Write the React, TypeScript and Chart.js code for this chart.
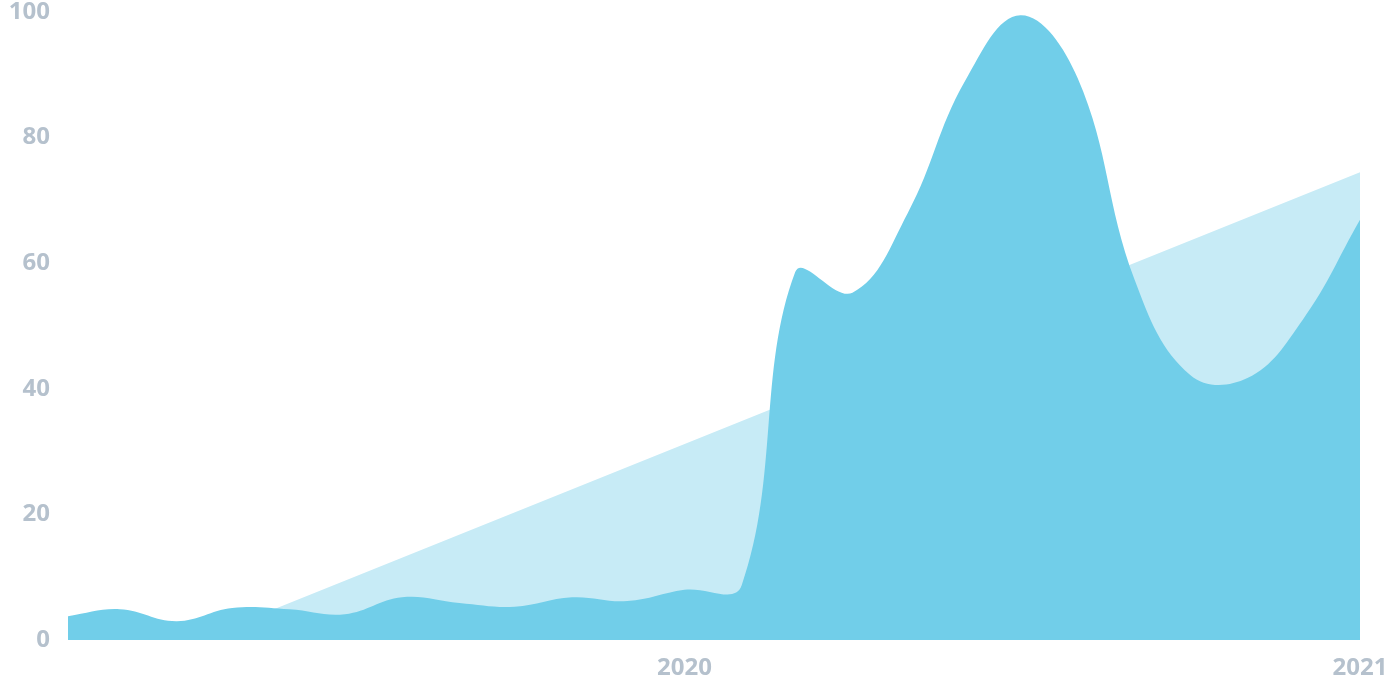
import React, { useEffect, useRef } from "react";
import { Chart, registerables } from "chart.js";

Chart.register(...registerables);

// Monthly interest values (Feb 2019 – Jan 2021)
const months = [
  "2019-02", "2019-03", "2019-04", "2019-05", "2019-06", "2019-07",
  "2019-08", "2019-09", "2019-10", "2019-11", "2019-12", "2020-01",
  "2020-02", "2020-03", "2020-04", "2020-05", "2020-06", "2020-07",
  "2020-08", "2020-09", "2020-10", "2020-11", "2020-12", "2021-01",
];
const interest = [
  3.8, 4.9, 3.0, 5.1, 4.9, 4.1,
  6.8, 5.9, 5.3, 6.8, 6.2, 8.0,
  8.7, 58.6, 55.3, 68, 89, 99.5,
  89.5, 57.3, 42.2, 41.7, 51, 66.9,
];
// Linear trend endpoints
const trendMonths = ["2019-02", "2021-01"];
const trendValues = [-8.3, 74.5];
const yearTicks = [2020, 2021];
const yTicks = [0, 20, 40, 60, 80, 100];

const toTs = (m: string) => {
  const [y, mo] = m.split("-").map(Number);
  return Date.UTC(y, mo - 1, 1);
};

export default function App() {
  const ref = useRef<HTMLCanvasElement | null>(null);
  useEffect(() => {
    if (!ref.current) return;
    const tickFont = { family: "'Open Sans', sans-serif", size: 24, weight: 700 as any };
    const chart = new Chart(ref.current, {
      type: "line",
      data: {
        datasets: [
          {
            data: months.map((m, i) => ({ x: toTs(m), y: interest[i] })),
            borderWidth: 0,
            borderColor: "rgba(0,0,0,0)",
            backgroundColor: "#71cee9",
            fill: "origin",
            pointRadius: 0,
            tension: 0.4,
            order: 0,
          },
          {
            data: trendMonths.map((m, i) => ({ x: toTs(m), y: trendValues[i] })),
            borderWidth: 0,
            borderColor: "rgba(0,0,0,0)",
            backgroundColor: "#c7ebf6",
            fill: "origin",
            pointRadius: 0,
            tension: 0,
            order: 1,
          },
        ],
      },
      options: {
        animation: false,
        responsive: true,
        maintainAspectRatio: false,
        layout: { padding: { left: 0, right: 32, top: 12, bottom: 0 } },
        plugins: { legend: { display: false }, tooltip: { enabled: false } },
        scales: {
          x: {
            type: "linear",
            min: toTs(months[0]),
            max: toTs(months[months.length - 1]),
            grid: { display: false, drawTicks: false },
            border: { display: false },
            afterBuildTicks: (s: any) => {
              s.ticks = yearTicks.map((y) => ({ value: Date.UTC(y, 0, 1) }));
            },
            afterFit: (s: any) => {
              s.height = 56;
              s.paddingLeft = 0;
              s.paddingRight = 0;
            },
            ticks: {
              color: "#b5c1cd",
              font: tickFont,
              padding: 14,
              maxRotation: 0,
              autoSkip: false,
              callback: (v: any) => String(new Date(Number(v)).getUTCFullYear()),
            },
          },
          y: {
            min: 0,
            max: 100,
            grid: { display: false, drawTicks: false },
            border: { display: false },
            afterBuildTicks: (s: any) => {
              s.ticks = yTicks.map((v) => ({ value: v }));
            },
            afterFit: (s: any) => {
              s.width = 68;
              s.paddingTop = 0;
              s.paddingBottom = 0;
            },
            ticks: {
              color: "#b5c1cd",
              font: tickFont,
              padding: 18,
            },
          },
        },
      },
    });
    return () => chart.destroy();
  }, []);
  return (
    <div style={{ position: "fixed", left: 0, top: 0, width: 1392, height: 696, background: "#fff" }}>
      <canvas ref={ref} />
    </div>
  );
}
